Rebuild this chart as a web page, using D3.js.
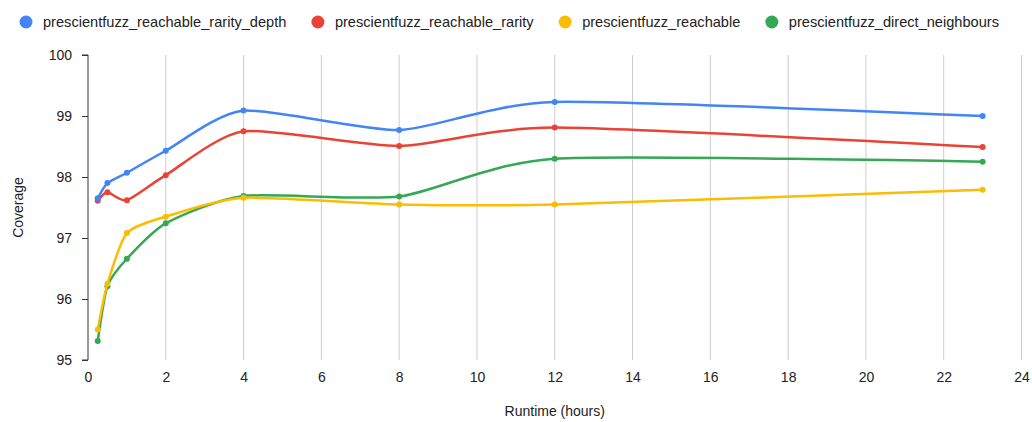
<!DOCTYPE html>
<html>
<head>
<meta charset="utf-8">
<script src="https://cdn.jsdelivr.net/npm/d3@7"></script>
<style>
  html, body { margin: 0; padding: 0; background: #fff; }
  svg { display: block; font-family: Arial, "Liberation Sans", sans-serif; }
</style>
</head>
<body>
<svg id="chart" width="1032" height="422"></svg>
<script>
// Runtime sample points (hours)
const hours = [0.25, 0.5, 1, 2, 4, 8, 12, 23];

// Coverage per configuration
const reachableRarityDepth = [97.65, 97.90, 98.07, 98.43, 99.09, 98.77, 99.23, 99.00];
const reachableRarity      = [97.61, 97.75, 97.62, 98.03, 98.75, 98.51, 98.81, 98.49];
const reachable            = [95.50, 96.25, 97.08, 97.35, 97.66, 97.55, 97.55, 97.79];
const directNeighbours     = [95.31, 96.21, 96.66, 97.24, 97.69, 97.68, 98.30, 98.25];

const seriesNames = [
  "prescientfuzz_reachable_rarity_depth",
  "prescientfuzz_reachable_rarity",
  "prescientfuzz_reachable",
  "prescientfuzz_direct_neighbours"
];
const seriesColors = ["#4285F4", "#EA4335", "#FBBC04", "#34A853"];

const xTicks = [0, 2, 4, 6, 8, 10, 12, 14, 16, 18, 20, 22, 24];
const yTicks = [95, 96, 97, 98, 99, 100];

const FONT = "Arial, 'Liberation Sans', sans-serif";
const FS = 14;
const LEGEND_FS = 14.6;

const series = [reachableRarityDepth, reachableRarity, reachable, directNeighbours]
  .map((vals, i) => ({
    name: seriesNames[i],
    color: seriesColors[i],
    points: vals.map((v, j) => ({ x: hours[j], y: v }))
  }));

const svg = d3.select("#chart");
const plot = { left: 88, right: 1021.5, top: 55, bottom: 360 };

const x = d3.scaleLinear().domain([0, 24]).range([plot.left, plot.right]);
const y = d3.scaleLinear().domain([95, 100]).range([plot.bottom, plot.top]);

// Vertical gridlines
svg.append("g")
  .selectAll("line")
  .data(xTicks.filter(t => t > 0))
  .join("line")
  .attr("x1", d => x(d)).attr("x2", d => x(d))
  .attr("y1", plot.top).attr("y2", plot.bottom)
  .attr("stroke", "#cccccc")
  .attr("stroke-width", 1);

// Y axis
const yAxis = svg.append("g")
  .attr("transform", `translate(${plot.left},0)`)
  .call(d3.axisLeft(y).tickValues(yTicks).tickSize(6).tickPadding(10).tickFormat(d3.format("d")));
yAxis.select(".domain").attr("stroke", "#333").attr("d", `M-6,${plot.top}H0V${plot.bottom}H-6`);
yAxis.selectAll(".tick line").attr("stroke", "#333");
yAxis.selectAll(".tick text").attr("fill", "#222").attr("font-size", FS).attr("font-family", FONT);

// X axis labels (no axis line)
const xAxis = svg.append("g")
  .attr("transform", `translate(0,${plot.bottom})`)
  .call(d3.axisBottom(x).tickValues(xTicks).tickSize(0).tickPadding(12).tickFormat(d3.format("d")));
xAxis.select(".domain").remove();
xAxis.selectAll(".tick text").attr("fill", "#222").attr("font-size", FS).attr("font-family", FONT);

// Axis titles
svg.append("text")
  .attr("x", (plot.left + plot.right) / 2)
  .attr("y", 416)
  .attr("text-anchor", "middle")
  .attr("font-size", FS)
  .attr("fill", "#222")
  .text("Runtime (hours)");

svg.append("text")
  .attr("transform", `translate(23,${(plot.top + plot.bottom) / 2}) rotate(-90)`)
  .attr("text-anchor", "middle")
  .attr("font-size", FS)
  .attr("fill", "#222")
  .text("Coverage");

// Smoothed lines
const line = d3.line()
  .x(d => x(d.x))
  .y(d => y(d.y))
  .curve(d3.curveCardinal.tension(0.35));

const sg = svg.append("g").selectAll("g").data(series.slice().reverse()).join("g");
sg.append("path")
  .attr("d", d => line(d.points))
  .attr("fill", "none")
  .attr("stroke", d => d.color)
  .attr("stroke-width", 2.5)
  .attr("stroke-linejoin", "round");
sg.selectAll("circle")
  .data(d => d.points.map(p => ({ ...p, color: d.color })))
  .join("circle")
  .attr("cx", d => x(d.x))
  .attr("cy", d => y(d.y))
  .attr("r", 3)
  .attr("fill", d => d.color);

// Legend
const legend = svg.append("g");
let lx = 26;
series.forEach(s => {
  const item = legend.append("g");
  item.append("circle").attr("cx", lx).attr("cy", 22).attr("r", 6.5).attr("fill", s.color);
  const t = item.append("text")
    .attr("x", lx + 17)
    .attr("y", 27)
    .attr("font-size", LEGEND_FS)
    .attr("fill", "#222")
    .text(s.name);
  lx += 17 + t.node().getComputedTextLength() + 31.5;
});
</script>
</body>
</html>
